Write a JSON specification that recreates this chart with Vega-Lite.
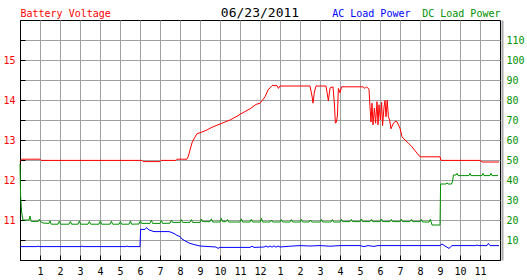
{
  "$schema": "https://vega.github.io/schema/vega-lite/v6.json",
  "width": 480,
  "height": 240,
  "autosize": "none",
  "padding": {"left": 20, "top": 20, "right": 27, "bottom": 20},
  "background": "white",
  "title": {"text": "06/23/2011", "anchor": "middle", "frame": "group", "baseline": "alphabetic", "offset": 5, "dy": 26.5, "fontSize": 13, "font": "DejaVu Sans Mono", "fontWeight": 400, "color": "black"},
  "config": {
    "font": "DejaVu Sans Mono",
    "view": {"stroke": "black", "strokeWidth": 1},
    "axis": {"labelFont": "DejaVu Sans Mono", "labelFontSize": 10, "titleFont": "DejaVu Sans Mono", "titleFontSize": 10, "titleFontWeight": "normal", "gridColor": "#a0a0a0", "gridOpacity": 1, "gridWidth": 1, "domainColor": "black", "tickColor": "black", "labelOverlap": false}
  },
  "datasets": {
    "battery": [
      {"h":0,"v":12.46},{"h":0.08,"v":12.52},{"h":1.0,"v":12.52},{"h":1.05,"v":12.49},{"h":6.1,"v":12.49},{"h":6.15,"v":12.46},{"h":7.0,"v":12.46},{"h":7.05,"v":12.49},{"h":7.8,"v":12.49},{"h":7.85,"v":12.52},{"h":8.35,"v":12.52},{"h":8.42,"v":12.6},{"h":8.5,"v":12.75},{"h":8.6,"v":12.93},{"h":8.7,"v":13.03},{"h":8.85,"v":13.16},{"h":9.0,"v":13.18},{"h":9.3,"v":13.24},{"h":9.65,"v":13.33},{"h":10.0,"v":13.4},{"h":10.5,"v":13.5},{"h":10.8,"v":13.58},{"h":11.1,"v":13.67},{"h":11.5,"v":13.78},{"h":11.8,"v":13.89},{"h":12.0,"v":13.92},{"h":12.1,"v":13.98},{"h":12.25,"v":14.08},{"h":12.4,"v":14.25},{"h":12.6,"v":14.36},{"h":12.85,"v":14.36},{"h":12.92,"v":14.29},{"h":13.0,"v":14.35},{"h":14.5,"v":14.35},{"h":14.6,"v":14.1},{"h":14.65,"v":13.92},{"h":14.72,"v":14.2},{"h":14.8,"v":14.35},{"h":15.3,"v":14.35},{"h":15.38,"v":14.1},{"h":15.42,"v":13.98},{"h":15.5,"v":14.3},{"h":15.65,"v":14.33},{"h":15.72,"v":13.9},{"h":15.77,"v":13.42},{"h":15.82,"v":13.45},{"h":15.87,"v":13.6},{"h":15.92,"v":14.29},{"h":16.0,"v":14.18},{"h":16.08,"v":14.33},{"h":17.15,"v":14.33},{"h":17.25,"v":14.29},{"h":17.33,"v":14.33},{"h":17.45,"v":14.27},{"h":17.5,"v":13.83},{"h":17.55,"v":13.45},{"h":17.6,"v":13.92},{"h":17.65,"v":13.38},{"h":17.72,"v":13.8},{"h":17.78,"v":13.42},{"h":17.85,"v":13.96},{"h":17.9,"v":13.38},{"h":17.95,"v":13.88},{"h":18.02,"v":13.5},{"h":18.08,"v":13.94},{"h":18.13,"v":13.36},{"h":18.2,"v":13.82},{"h":18.25,"v":13.99},{"h":18.3,"v":13.58},{"h":18.36,"v":14.0},{"h":18.42,"v":13.58},{"h":18.48,"v":13.5},{"h":18.55,"v":13.28},{"h":18.65,"v":13.4},{"h":18.75,"v":13.46},{"h":18.85,"v":13.46},{"h":19.0,"v":13.29},{"h":19.1,"v":13.08},{"h":19.25,"v":13.0},{"h":19.4,"v":12.93},{"h":19.6,"v":12.83},{"h":19.85,"v":12.67},{"h":20.0,"v":12.58},{"h":21.0,"v":12.58},{"h":21.05,"v":12.49},{"h":23.0,"v":12.49},{"h":23.1,"v":12.45},{"h":23.95,"v":12.45}
    ],
    "ac": [
      {"h":0,"w":6.7},{"h":0.85,"w":6.7},{"h":0.9,"w":7.0},{"h":0.95,"w":6.7},{"h":3.05,"w":6.7},{"h":3.1,"w":7.0},{"h":3.15,"w":6.7},{"h":5.3,"w":6.7},{"h":5.35,"w":7.0},{"h":5.4,"w":6.7},{"h":6.0,"w":6.7},{"h":6.03,"w":15.3},{"h":6.25,"w":15.3},{"h":6.32,"w":16.2},{"h":6.45,"w":15.0},{"h":6.55,"w":14.7},{"h":6.7,"w":14.2},{"h":7.45,"w":14.2},{"h":7.6,"w":13.7},{"h":7.75,"w":13.0},{"h":7.85,"w":12.3},{"h":8.0,"w":11.7},{"h":8.1,"w":10.5},{"h":8.3,"w":9.3},{"h":8.5,"w":8.3},{"h":8.75,"w":7.6},{"h":9.0,"w":7.0},{"h":9.8,"w":6.5},{"h":9.9,"w":5.8},{"h":10.0,"w":6.3},{"h":11.5,"w":6.3},{"h":11.6,"w":6.9},{"h":11.7,"w":6.3},{"h":12.2,"w":6.5},{"h":12.3,"w":7.0},{"h":12.4,"w":6.4},{"h":12.5,"w":7.0},{"h":12.6,"w":6.4},{"h":12.7,"w":7.1},{"h":12.8,"w":6.4},{"h":12.9,"w":7.0},{"h":13.0,"w":6.5},{"h":13.5,"w":6.9},{"h":14.0,"w":7.2},{"h":14.5,"w":7.0},{"h":15.0,"w":7.2},{"h":15.5,"w":6.9},{"h":16.0,"w":7.2},{"h":17.0,"w":7.2},{"h":17.2,"w":6.7},{"h":17.4,"w":7.2},{"h":17.7,"w":6.8},{"h":17.9,"w":7.2},{"h":19.0,"w":7.2},{"h":20.0,"w":7.2},{"h":21.0,"w":7.2},{"h":21.1,"w":8.0},{"h":21.25,"w":7.0},{"h":21.45,"w":5.8},{"h":21.6,"w":7.2},{"h":22.8,"w":7.2},{"h":22.85,"w":7.6},{"h":22.9,"w":7.2},{"h":23.35,"w":7.2},{"h":23.42,"w":8.3},{"h":23.5,"w":7.2},{"h":23.95,"w":7.2}
    ],
    "dc": [
      {"h":0,"w":48},{"h":0.03,"w":32},{"h":0.08,"w":24},{"h":0.15,"w":20},{"h":0.45,"w":20},{"h":0.5,"w":22},{"h":0.56,"w":19.3},{"h":0.92,"w":19.3},{"h":0.97,"w":20.3},{"h":1.03,"w":19.2},{"h":1.15,"w":18.5},{"h":1.45,"w":18.3},{"h":1.5,"w":19.6},{"h":1.56,"w":17.9},{"h":1.9,"w":17.9},{"h":1.97,"w":19.5},{"h":2.03,"w":17.9},{"h":2.45,"w":17.9},{"h":2.52,"w":19.3},{"h":2.58,"w":17.9},{"h":2.9,"w":17.9},{"h":2.97,"w":19.5},{"h":3.03,"w":17.9},{"h":3.4,"w":17.9},{"h":3.47,"w":19.3},{"h":3.53,"w":17.9},{"h":3.95,"w":17.9},{"h":4.02,"w":19.6},{"h":4.08,"w":17.9},{"h":4.5,"w":17.9},{"h":4.57,"w":19.4},{"h":4.63,"w":17.9},{"h":4.95,"w":17.9},{"h":5.02,"w":19.3},{"h":5.08,"w":17.9},{"h":5.45,"w":17.9},{"h":5.52,"w":19.5},{"h":5.58,"w":17.9},{"h":5.95,"w":18.0},{"h":6.02,"w":19.7},{"h":6.08,"w":18.3},{"h":6.5,"w":18.3},{"h":6.57,"w":20.0},{"h":6.63,"w":18.3},{"h":7.0,"w":18.3},{"h":7.07,"w":19.8},{"h":7.13,"w":18.3},{"h":7.5,"w":18.4},{"h":7.57,"w":20.0},{"h":7.63,"w":18.8},{"h":8.0,"w":18.8},{"h":8.07,"w":20.2},{"h":8.13,"w":18.8},{"h":8.5,"w":18.8},{"h":8.57,"w":20.2},{"h":8.63,"w":18.8},{"h":9.0,"w":18.8},{"h":9.07,"w":20.5},{"h":9.13,"w":19.2},{"h":9.5,"w":19.2},{"h":9.57,"w":20.6},{"h":9.63,"w":19.0},{"h":10.0,"w":19.0},{"h":10.07,"w":20.8},{"h":10.13,"w":19.2},{"h":10.3,"w":19.2},{"h":10.37,"w":20.2},{"h":10.43,"w":19.0},{"h":11.0,"w":19.0},{"h":11.07,"w":20.6},{"h":11.13,"w":19.0},{"h":11.5,"w":19.0},{"h":11.57,"w":20.4},{"h":11.63,"w":19.0},{"h":12.0,"w":19.0},{"h":12.07,"w":20.8},{"h":12.13,"w":19.0},{"h":12.5,"w":19.0},{"h":12.57,"w":20.0},{"h":12.63,"w":19.0},{"h":13.0,"w":19.0},{"h":13.07,"w":20.2},{"h":13.13,"w":19.0},{"h":13.5,"w":19.0},{"h":13.57,"w":20.2},{"h":13.63,"w":19.0},{"h":14.0,"w":19.0},{"h":14.07,"w":20.3},{"h":14.13,"w":19.0},{"h":14.45,"w":19.0},{"h":14.52,"w":20.0},{"h":14.58,"w":19.0},{"h":15.0,"w":19.0},{"h":15.07,"w":20.3},{"h":15.13,"w":19.0},{"h":15.55,"w":19.0},{"h":15.62,"w":20.2},{"h":15.68,"w":19.0},{"h":16.0,"w":19.0},{"h":16.07,"w":20.4},{"h":16.13,"w":19.2},{"h":16.5,"w":19.2},{"h":16.57,"w":20.3},{"h":16.63,"w":19.2},{"h":17.0,"w":19.2},{"h":17.07,"w":20.5},{"h":17.13,"w":19.2},{"h":17.5,"w":19.2},{"h":17.57,"w":20.3},{"h":17.63,"w":19.2},{"h":18.0,"w":19.2},{"h":18.07,"w":20.5},{"h":18.13,"w":19.2},{"h":18.5,"w":19.2},{"h":18.57,"w":20.3},{"h":18.63,"w":19.2},{"h":19.0,"w":19.2},{"h":19.07,"w":20.4},{"h":19.13,"w":19.2},{"h":19.5,"w":19.2},{"h":19.57,"w":20.3},{"h":19.63,"w":19.2},{"h":20.0,"w":19.2},{"h":20.07,"w":20.3},{"h":20.13,"w":19.0},{"h":20.45,"w":19.0},{"h":20.52,"w":20.3},{"h":20.6,"w":17.5},{"h":21.0,"w":17.5},{"h":21.03,"w":38.0},{"h":21.3,"w":38.0},{"h":21.35,"w":38.6},{"h":21.4,"w":38.0},{"h":21.58,"w":38.0},{"h":21.63,"w":39.5},{"h":21.67,"w":42.5},{"h":21.8,"w":42.5},{"h":21.85,"w":43.3},{"h":21.9,"w":42.2},{"h":22.45,"w":42.2},{"h":22.5,"w":43.3},{"h":22.55,"w":42.2},{"h":23.1,"w":42.2},{"h":23.15,"w":43.3},{"h":23.2,"w":42.2},{"h":23.5,"w":42.2},{"h":23.55,"w":43.3},{"h":23.6,"w":42.2},{"h":23.9,"w":42.2}
    ]
  },
  "layer": [
    {
      "data": {"name": "battery"},
      "mark": {"type": "line", "color": "#ff0000", "strokeWidth": 1},
      "encoding": {
        "x": {"field": "h", "type": "quantitative", "scale": {"domain": [0, 24], "nice": false},
          "axis": {"values": [1,2,3,4,5,6,7,8,9,10,11,12,13,14,15,16,17,18,19,20,21,22,23], "tickCount": 48, "labelExpr": "datum.value == 12 ? '12' : '' + (datum.value % 12)", "tickSize": -5, "labelPadding": 11, "labelColor": "black", "labelFlush": false, "labelOverlap": false, "labelBound": false, "grid": true, "title": "DC Load Power", "titleColor": "#009000", "titleX": 401.7, "titleY": -243.5, "titleAlign": "left", "titleBaseline": "alphabetic", "titleAngle": 0}},
        "y": {"field": "v", "type": "quantitative", "scale": {"domain": [10, 16], "nice": false, "zero": false},
          "axis": {"values": [10.5,11,11.5,12,12.5,13,13.5,14,14.5,15,15.5], "tickCount": 24, "labelExpr": "datum.value % 1 == 0 ? '' + datum.value : ''", "tickSize": -5, "labelPadding": 10, "labelColor": "#ff0000", "labelFlush": false, "labelOverlap": false, "grid": true, "title": "Battery Voltage", "titleColor": "#ff0000", "titleAngle": 0, "titleX": 0, "titleY": -3.5, "titleAlign": "left", "titleBaseline": "alphabetic"}}
      }
    },
    {
      "layer": [
        {
          "data": {"name": "ac"},
          "mark": {"type": "line", "color": "#0000ff", "strokeWidth": 1},
          "encoding": {
            "x": {"field": "h", "type": "quantitative"},
            "y": {"field": "w", "type": "quantitative", "scale": {"domain": [0, 120], "nice": false},
              "axis": {"orient": "right", "values": [10,20,30,40,50,60,70,80,90,100,110], "tickCount": 24, "ticks": false, "labelPadding": 4, "labelColor": "#009000", "labelFlush": false, "labelOverlap": false, "grid": false, "offset": 2, "domainColor": "#a8a8a8", "domainWidth": 2, "title": "AC Load Power", "titleColor": "#0000ff", "titleAngle": 0, "titleX": -170.3, "titleY": -3.5, "titleAlign": "left", "titleBaseline": "alphabetic"}}
          }
        },
        {
          "data": {"name": "dc"},
          "mark": {"type": "line", "color": "#009000", "strokeWidth": 1},
          "encoding": {
            "x": {"field": "h", "type": "quantitative"},
            "y": {"field": "w", "type": "quantitative"}
          }
        }
      ]
    }
  ],
  "resolve": {"scale": {"y": "independent"}}
}
